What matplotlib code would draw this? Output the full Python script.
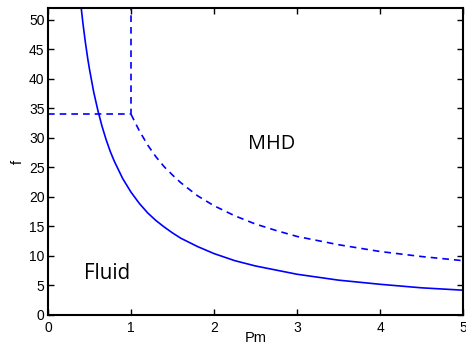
import matplotlib
matplotlib.use("Agg")
import matplotlib.pyplot as plt

# Datos
pm_solido = [0.40, 0.42, 0.45, 0.48, 0.50, 0.55, 0.60, 0.65, 0.70, 0.75, 0.80,
             0.90, 1.00, 1.10, 1.20, 1.30, 1.40, 1.50, 1.60, 1.80, 2.00, 2.25,
             2.50, 2.75, 3.00, 3.50, 4.00, 4.50, 5.00]
f_solido = [52.0, 49.5, 46.2, 43.3, 41.6, 37.8, 34.7, 32.0, 29.7, 27.7, 26.0,
            23.1, 20.8, 18.9, 17.3, 16.0, 14.9, 13.9, 13.0, 11.6, 10.4, 9.2,
            8.3, 7.6, 6.9, 5.9, 5.2, 4.6, 4.2]

pm_trazos = [1.00, 1.10, 1.20, 1.30, 1.40, 1.50, 1.60, 1.80, 2.00, 2.25, 2.50,
             2.75, 3.00, 3.50, 4.00, 4.50, 5.00]
f_trazos = [34.0, 31.2, 28.8, 26.8, 25.1, 23.7, 22.4, 20.2, 18.5, 16.8, 15.4,
            14.3, 13.3, 11.9, 10.75, 9.9, 9.2]

# Esquina en L (Pm = 1, f = 34)
pm_L = [0.0, 1.0, 1.0]
f_L = [34.0, 34.0, 52.0]

xticks = [0, 1, 2, 3, 4, 5]
yticks = [0, 5, 10, 15, 20, 25, 30, 35, 40, 45, 50]

plt.rcParams['font.family'] = ['Liberation Sans', 'DejaVu Sans']

fig = plt.figure(figsize=(4.66, 3.45), dpi=100)
ax = fig.add_axes([0.103, 0.087, 0.8906, 0.89])

azul = (0, 0, 1)
ax.plot(pm_solido, f_solido, color=azul, linewidth=1.2)
ax.plot(pm_trazos, f_trazos, color=azul, linewidth=1.2, linestyle=(0, (4, 3)))
ax.plot(pm_L, f_L, color=azul, linewidth=1.2, linestyle=(0, (4, 3)))

ax.text(2.7, 29.0, "MHD", fontsize=14.3, family=['Open Sans', 'DejaVu Sans'],
        ha='center', va='center')
ax.text(0.717, 7.1, "Fluid", fontsize=14.8, family=['Open Sans', 'DejaVu Sans'],
        ha='center', va='center')

ax.set_xlim(0, 5)
ax.set_ylim(0, 52)
ax.set_xticks(xticks)
ax.set_yticks(yticks)
ax.tick_params(direction='in', length=4, width=1, top=True, right=True,
               labelsize=10)
ax.tick_params(axis='x', pad=4)
ax.tick_params(axis='y', pad=2.5)
for s in ax.spines.values():
    s.set_linewidth(1.5)

ax.set_xlabel("Pm", fontsize=10.5, labelpad=-2.5)
ax.set_ylabel("f", fontsize=10.5, labelpad=3)

fig.savefig("out.png", dpi=100)
